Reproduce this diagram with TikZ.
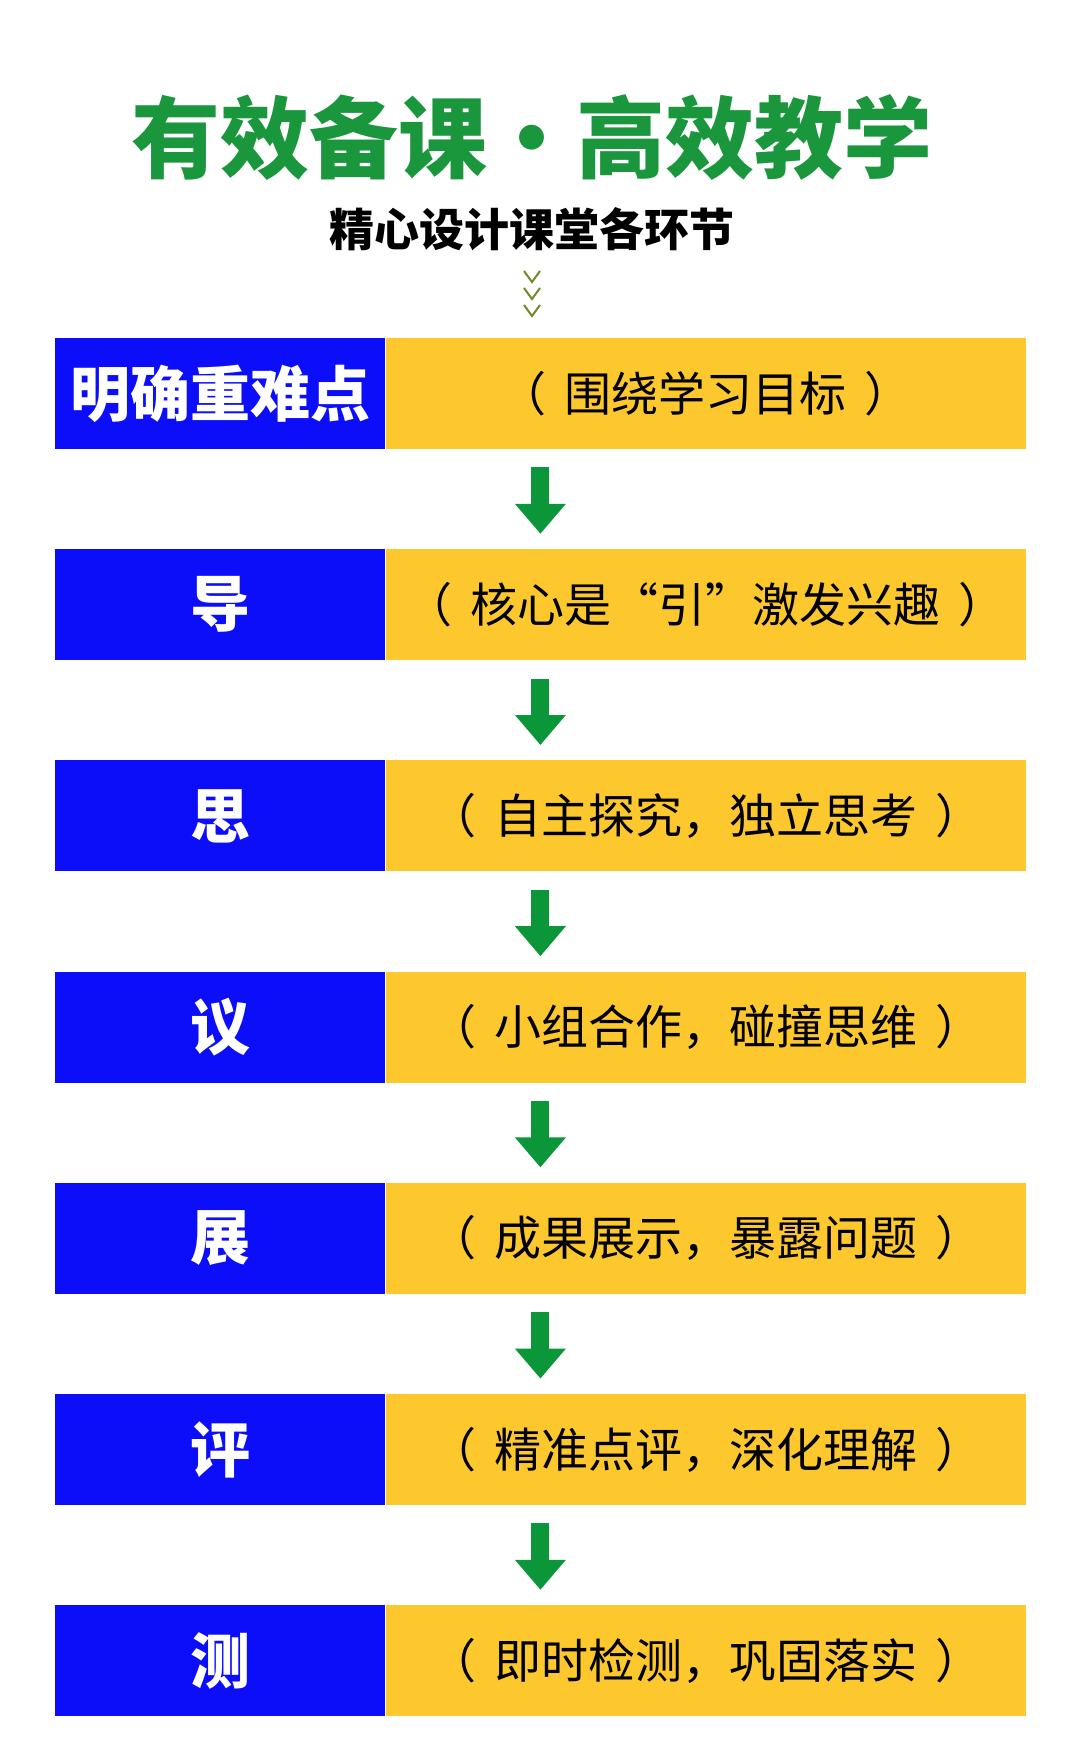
\documentclass[tikz,border=0pt]{standalone}
\usepackage{fontspec}
\setmainfont{Noto Sans CJK SC}
\newfontfamily\titlefont{Noto Sans CJK SC}[UprightFont=* Black]
\usepackage{xcolor}
\usepackage{tikz}
\usetikzlibrary{arrows.meta,positioning,calc}
\definecolor{keyblue}{RGB}{12, 14, 250}
\definecolor{noteyellow}{RGB}{253, 200, 45}
\definecolor{arrowgreen}{RGB}{12, 150, 58}
\definecolor{titlegreen}{RGB}{26, 150, 60}
\definecolor{chevolive}{RGB}{110, 140, 40}

\begin{document}
\begin{tikzpicture}[x=0.5pt, y=-0.5pt,
    keybox/.style={fill=keyblue, text=white, inner sep=0pt, minimum width=165pt, minimum height=55.5pt, font=\fontsize{30}{32}\selectfont\bfseries},
    notebox/.style={fill=noteyellow, text=black, inner sep=0pt, minimum width=320pt, minimum height=55.5pt, font=\fontsize{23.5}{26}\selectfont},
    flowarrow/.style={draw=arrowgreen, line width=9pt, -{Triangle[width=24.5pt, length=15pt]}, shorten <=9pt, shorten >=7.5pt}]
    \useasboundingbox[fill=white] (0,0) rectangle (1080,1752);

    % heading
    \node[text=titlegreen, font=\titlefont\fontsize{44.5}{47}\selectfont] (title) at (532, 137) {有效备课·高效教学};
    \node[font=\fontsize{22.5}{24}\selectfont\bfseries] (subtitle) at (532, 229) {精心设计课堂各环节};
    \foreach \y in {271, 288, 305}
        \draw[chevolive, line width=1pt] (524, \y) -- (532, \y+11) -- (540, \y);

    % steps
    \foreach \key/\note [count=\i] in {明确重难点/围绕学习目标, 导/核心是“引”激发兴趣, 思/自主探究，独立思考, 议/小组合作，碰撞思维, 展/成果展示，暴露问题, 评/精准点评，深化理解, 测/即时检测，巩固落实} {
        \node[keybox] (k\i) at (220, 393.5+211.2*\i-211.2) {\key};
        \node[notebox, right=0pt of k\i] (t\i) {（\hspace{9pt}\note\hspace{9pt}）};
        \path (k\i.south west) -- (t\i.south east) coordinate[midway] (b\i);
        \path (k\i.north west) -- (t\i.north east) coordinate[midway] (a\i);
    }

    % connectors
    \foreach \i [evaluate=\i as \j using int(\i+1)] in {1,...,6}
        \draw[flowarrow] (b\i) -- (a\j);
\end{tikzpicture}
\end{document}
